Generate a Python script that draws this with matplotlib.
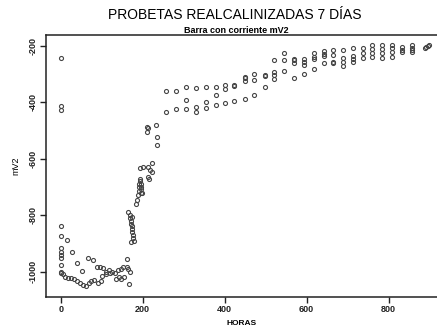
import matplotlib
matplotlib.use("Agg")
import matplotlib.pyplot as plt

plt.rcParams["font.family"] = ["Liberation Sans", "DejaVu Sans"]

# ── Data (horas, mV2) ──
# first week, bar still polarised near -1000 mV
horas_inicio = [0, 0, 0, 0, 0, 0, 0, 0, 0, 0, 0, 0, 15, 28, 41, 51, 66, 78,
                5, 10, 18, 25, 32, 40, 48, 55, 62, 70, 75, 82, 90, 98,
                89, 96, 103, 110, 118, 125, 132, 140, 147, 153,
                100, 110, 120, 136, 142, 148, 155, 161, 161, 165, 167, 170]
mv_inicio = [-245, -413, -428, -837, -874, -917, -929, -941, -953, -976, -1000, -1006,
             -888, -929, -970, -997, -953, -959,
             -1010, -1018, -1022, -1022, -1027, -1032, -1040, -1047, -1051, -1042,
             -1035, -1030, -1039, -1033,
             -984, -982, -988, -1000, -995, -1000, -1005, -995, -990, -985,
             -1015, -1010, -1005, -1027, -1020, -1025, -1020, -956, -982, -990,
             -1045, -1000]

# jump after current is switched off
horas_subida = [165, 168, 170, 171, 172, 173, 174, 175, 176, 177, 178, 172, 174,
                184, 186, 188, 190, 190, 192, 194, 196, 198,
                194, 196, 196, 195, 194, 202, 214, 218, 222, 222, 214, 216,
                210, 214, 210, 232, 234, 234]
mv_subida = [-790, -800, -810, -820, -830, -840, -850, -860, -870, -880, -890, -895, -805,
             -760, -745, -730, -715, -700, -690, -680, -700, -720,
             -673, -691, -708, -720, -632, -631, -628, -640, -648, -616, -664, -672,
             -487, -492, -504, -481, -523, -552]

# slow recovery towards -200 mV
horas_final = [257, 257, 281, 281, 305, 305, 305, 330, 330, 330, 354, 354, 354,
               379, 379, 379, 401, 401, 401, 424, 424, 424,
               449, 449, 449, 449, 472, 472, 472, 498, 498, 498,
               521, 521, 521, 521, 545, 545, 545, 570, 570, 570, 570,
               593, 593, 593, 593, 617, 617, 617, 617, 642, 642, 642, 642,
               665, 665, 665, 665, 688, 688, 688, 688, 713, 713, 713, 713,
               737, 737, 737, 760, 760, 760, 760, 785, 785, 785, 785,
               809, 809, 809, 809, 833, 833, 833, 858, 858, 858, 858,
               889, 891, 895, 899]
mv_final = [-360, -436, -359, -424, -347, -392, -424, -349, -416, -434, -345, -398, -419,
            -345, -375, -410, -340, -354, -402, -339, -342, -395,
            -312, -313, -325, -389, -301, -321, -374, -304, -306, -347,
            -251, -292, -304, -318, -227, -251, -288, -248, -251, -262, -315,
            -247, -257, -268, -301, -227, -239, -247, -282, -218, -229, -235, -262,
            -215, -233, -257, -262, -215, -245, -257, -271, -209, -235, -247, -259,
            -207, -227, -245, -198, -212, -227, -239, -198, -212, -224, -245,
            -198, -209, -221, -239, -204, -215, -223, -198, -207, -215, -221,
            -207, -204, -200, -198]

xticks = [0, 200, 400, 600, 800]
yticks = [-200, -400, -600, -800, -1000]

fig = plt.figure(figsize=(4.37, 3.35), dpi=100)
ax = fig.add_axes([0.105, 0.1134, 0.895, 0.782])

estilo = dict(linestyle="none", marker="o", markersize=2.9, markerfacecolor="none",
              markeredgecolor="#444444", markeredgewidth=0.8, clip_on=False)
for xs, ys in [(horas_inicio, mv_inicio), (horas_subida, mv_subida), (horas_final, mv_final)]:
    ax.plot(xs, ys, **estilo)

ax.set_xlim(-36, 918)
ax.set_ylim(-1090, -162)
ax.set_xticks(xticks)
ax.set_yticks(yticks)
ax.set_xticklabels([str(t) for t in xticks], fontsize=6.5, fontweight="bold")
ax.set_yticklabels([str(t) for t in yticks], fontsize=6.5, fontweight="bold",
                   rotation=90, va="center")
ax.tick_params(direction="out", length=4, width=1, colors="#222222", pad=2)
ax.spines["right"].set_visible(False)
for s in ["left", "top", "bottom"]:
    ax.spines[s].set_linewidth(1.1)
    ax.spines[s].set_color("#222222")

ax.set_xlabel("HORAS", fontsize=6, fontweight="bold", labelpad=4)
ax.set_ylabel("mV2", fontsize=6.5, labelpad=6)

fig.text(0.538, 0.955, "PROBETAS REALCALINIZADAS 7 DÍAS", ha="center", va="center",
         fontsize=10)
fig.text(0.541, 0.91, "Barra con corriente mV2", ha="center", va="center",
         fontsize=6.5, fontweight="bold")

fig.savefig("out.png", dpi=100)
